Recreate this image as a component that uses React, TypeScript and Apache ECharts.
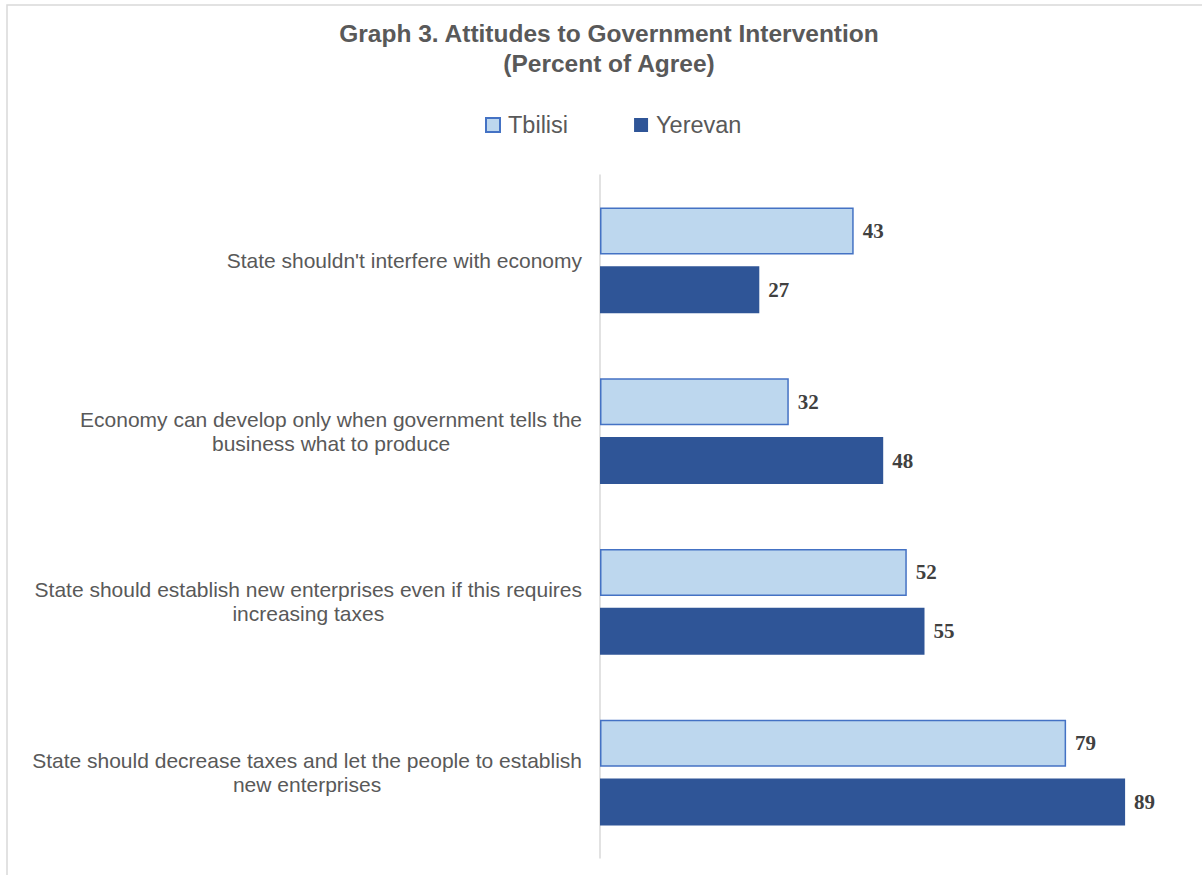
import React, { useEffect, useRef } from "react";
import * as echarts from "echarts";

const categories = [
  "State shouldn't interfere with economy",
  "Economy can develop only when government tells the\nbusiness what to produce",
  "State should establish new enterprises even if this requires\nincreasing taxes",
  "State should decrease taxes and let the people to establish\nnew enterprises",
];
const tbilisi = [43, 32, 52, 79];
const yerevan = [27, 48, 55, 89];
const seriesNames = ["Tbilisi", "Yerevan"];

export default function App() {
  const ref = useRef<HTMLDivElement>(null);
  useEffect(() => {
    if (!ref.current) return;
    const chart = echarts.init(ref.current, null, { renderer: "svg" });
    const labelStyle = {
      show: true,
      position: "right",
      distance: 9,
      fontFamily: "Liberation Serif",
      fontWeight: "bold",
      fontSize: 21,
      color: "#404040",
    };
    chart.setOption({
      animation: false,
      backgroundColor: "#ffffff",
      title: {
        text: "Graph 3. Attitudes to Government Intervention\n(Percent of Agree)",
        left: 609,
        top: 18,
        padding: 0,
        textAlign: "center",
        textStyle: {
          fontFamily: "Liberation Sans",
          fontWeight: "bold",
          fontSize: 24.5,
          lineHeight: 30,
          color: "#595959",
        },
      },
      legend: {
        data: seriesNames,
        icon: "rect",
        top: 113,
        left: 485,
        padding: 0,
        itemWidth: 14,
        itemHeight: 14,
        itemGap: 66,
        textStyle: {
          fontFamily: "Liberation Sans",
          fontSize: 23.5,
          color: "#595959",
          padding: [0, 0, 0, 3],
        },
      },
      graphic: [
        {
          type: "rect",
          shape: { x: 7, y: 5, width: 1200, height: 880 },
          style: { fill: "none", stroke: "#d9d9d9", lineWidth: 1.5 },
          silent: true,
        },
      ],
      grid: { left: 600, right: 12, top: 175, bottom: 17, containLabel: false },
      xAxis: {
        type: "value",
        min: 0,
        max: 100,
        show: false,
      },
      yAxis: {
        type: "category",
        data: categories,
        inverse: true,
        axisLine: { show: true, lineStyle: { color: "#d9d9d9", width: 1.5 } },
        axisTick: { show: false },
        axisLabel: {
          margin: 18,
          fontFamily: "Liberation Sans",
          fontSize: 21,
          lineHeight: 24,
          color: "#595959",
          formatter: (v: string) =>
            v
              .split("\n")
              .map((l) => `{c|${l}}`)
              .join("\n"),
          rich: {
            c: {
              align: "center",
              fontFamily: "Liberation Sans",
              fontSize: 21,
              lineHeight: 24,
              color: "#595959",
            },
          },
        },
      },
      series: [
        {
          name: seriesNames[0],
          type: "bar",
          data: tbilisi,
          barGap: "25%",
          barCategoryGap: "38%",
          itemStyle: { color: "#BDD7EE", borderColor: "#4472C4", borderWidth: 1.5 },
          label: labelStyle,
        },
        {
          name: seriesNames[1],
          type: "bar",
          data: yerevan,
          barGap: "25%",
          barCategoryGap: "38%",
          itemStyle: { color: "#2F5597" },
          label: labelStyle,
        },
      ],
    });
    return () => chart.dispose();
  }, []);
  return (
    <div
      ref={ref}
      style={{ position: "absolute", left: 0, top: 0, width: 1202, height: 875 }}
    />
  );
}
